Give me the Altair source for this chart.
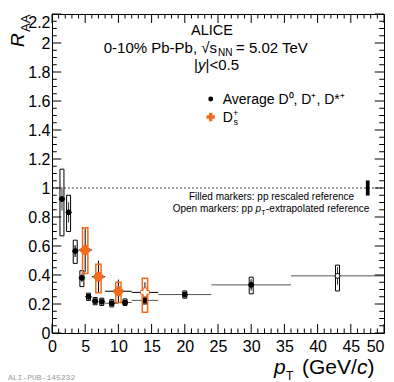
import altair as alt
import pandas as pd

FONT = "Liberation Sans"
ORANGE = "#f26a1c"

# ---------------- data ----------------
# Average D0, D+, D*+
avg_pt = [1.5, 2.5, 3.5, 4.5, 5.5, 6.5, 7.5, 9, 11, 14, 20, 30, 43]
avg_lo = [1, 2, 3, 4, 5, 6, 7, 8, 10, 12, 16, 24, 36]
avg_hi = [2, 3, 4, 5, 6, 7, 8, 10, 12, 16, 24, 36, 50]
avg_raa = [0.924, 0.832, 0.565, 0.38, 0.25, 0.22, 0.215, 0.205, 0.21, 0.225, 0.265, 0.332, 0.394]
avg_stat = [0.08, 0.07, 0.04, 0.03, 0.02, 0.015, 0.015, 0.015, 0.015, 0.025, 0.02, 0.04, 0.06]
avg_sys_lo = [0.67, 0.70, 0.48, 0.32, 0.225, 0.195, 0.19, 0.18, 0.19, 0.20, 0.24, 0.27, 0.29]
avg_sys_hi = [1.13, 0.95, 0.64, 0.43, 0.275, 0.245, 0.24, 0.23, 0.235, 0.25, 0.29, 0.385, 0.468]
avg_ref = [0.0, 0.0, 0.04, 0.02, 0.015, 0.012, 0.012, 0.012, 0.012, 0.015, 0.018, 0.03, 0.0]
avg_open = [False] * 12 + [True]

# Ds+
ds_pt = [5, 7, 10, 14]
ds_lo = [4, 6, 8, 12]
ds_hi = [6, 8, 12, 16]
ds_raa = [0.572, 0.388, 0.288, 0.28]
ds_stat = [0.15, 0.11, 0.08, 0.07]
ds_sys_lo = [0.41, 0.277, 0.21, 0.143]
ds_sys_hi = [0.726, 0.475, 0.35, 0.378]
ds_open = [False, False, False, True]

# normalisation uncertainty
norm_pt = [47.55]
norm_lo = [0.948]
norm_hi = [1.052]

x_major = [0, 5, 10, 15, 20, 25, 30, 35, 40, 45, 50]
x_minor = [v for v in range(0, 51) if v % 5 != 0]
y_major = [0, 0.2, 0.4, 0.6, 0.8, 1, 1.2, 1.4, 1.6, 1.8, 2, 2.2]
y_minor = [round(i * 0.05, 2) for i in range(0, 45) if i % 4 != 0]

avg = pd.DataFrame(dict(pt=avg_pt, lo=avg_lo, hi=avg_hi, raa=avg_raa, stat=avg_stat,
                        slo=avg_sys_lo, shi=avg_sys_hi, ref=avg_ref, open=avg_open))
ds = pd.DataFrame(dict(pt=ds_pt, lo=ds_lo, hi=ds_hi, raa=ds_raa, stat=ds_stat,
                       slo=ds_sys_lo, shi=ds_sys_hi, open=ds_open))
norm = pd.DataFrame(dict(pt=norm_pt, lo=norm_lo, hi=norm_hi))

# ---------------- scales / axes ----------------
xs = alt.Scale(domain=[0, 50], nice=False, zero=False)
ys = alt.Scale(domain=[0, 2.2], nice=False, zero=False)

xaxis = alt.Axis(values=x_major, format="~g", ticks=False, tickSize=0, domain=False, grid=False,
                 labelFont=FONT, labelFontSize=16, labelColor="black", labelPadding=5,
                 labelOverlap=False, labelFlush=False, title=None,
                 labelAlign={"condition": {"test": "datum.value >= 50", "value": "right"},
                             "value": "center"})
yaxis = alt.Axis(values=y_major, format="~g", ticks=False, tickSize=0, domain=False, grid=False,
                 labelFont=FONT, labelFontSize=16, labelColor="black", labelPadding=2,
                 labelOverlap=False, labelFlush=False, title=None,
                 labelBaseline={"condition": {"test": "datum.value > 2.1", "value": "top"},
                                "value": "middle"})


def EX(f):
    return alt.X(f + ":Q", scale=xs, axis=xaxis)


def EY(f):
    return alt.Y(f + ":Q", scale=ys, axis=yaxis)


layers = []

# dashed line at 1
layers.append(alt.Chart(pd.DataFrame({"y": [1], "a": [0], "b": [50]})).mark_rule(
    color="#444", strokeWidth=1, strokeDash=[2, 2]).encode(x=EX("a"), x2="b", y=EY("y")))

# average D: horizontal bin bars
avg_base = alt.Chart(avg)
layers.append(avg_base.mark_rule(color="#555", strokeWidth=1).encode(
    x=EX("lo"), x2="hi", y=EY("raa")))
# syst boxes
layers.append(avg_base.transform_calculate(bl="datum.pt - 0.3", br="datum.pt + 0.3").mark_rect(
    fill="white", stroke="black", strokeWidth=1).encode(x=EX("bl"), x2="br", y=EY("slo"), y2="shi"))
# inner grey boxes
layers.append(avg_base.transform_filter("datum.ref > 0").transform_calculate(
    bl="datum.pt - 0.2", br="datum.pt + 0.2", rl="datum.raa - datum.ref", rh="datum.raa + datum.ref"
).mark_rect(fill="#999999").encode(x=EX("bl"), x2="br", y=EY("rl"), y2="rh"))
# stat bars
layers.append(avg_base.transform_calculate(el="datum.raa - datum.stat", eh="datum.raa + datum.stat").mark_rule(
    color="#333", strokeWidth=1).encode(x=EX("pt"), y=EY("el"), y2="eh"))
# markers
layers.append(avg_base.mark_point(shape="circle", filled=True, size=24, strokeWidth=1, opacity=1).encode(
    x=EX("pt"), y=EY("raa"),
    fill=alt.condition("datum.open", alt.value("white"), alt.value("black")),
    stroke=alt.value("black")))

# Ds
ds_base = alt.Chart(ds)
layers.append(ds_base.mark_rule(color="black", strokeWidth=1).encode(
    x=EX("lo"), x2="hi", y=EY("raa")))
layers.append(ds_base.transform_calculate(el="datum.raa - datum.stat", eh="datum.raa + datum.stat").mark_rule(
    color="black", strokeWidth=1).encode(x=EX("pt"), y=EY("el"), y2="eh"))
layers.append(ds_base.transform_calculate(bl="datum.pt - 0.4", br="datum.pt + 0.4").mark_rect(
    fill=None, stroke=ORANGE, strokeWidth=1.5).encode(x=EX("bl"), x2="br", y=EY("slo"), y2="shi"))
layers.append(ds_base.mark_point(shape="cross", filled=True, size=80, strokeWidth=1, opacity=1).encode(
    x=EX("pt"), y=EY("raa"),
    fill=alt.condition("datum.open", alt.value("white"), alt.value(ORANGE)),
    stroke=alt.value(ORANGE)))

# normalisation box
layers.append(alt.Chart(norm).transform_calculate(bl="datum.pt - 0.28", br="datum.pt + 0.28").mark_rect(
    fill="black").encode(x=EX("bl"), x2="br", y=EY("lo"), y2="hi"))

# inward ticks on all four sides
XL, XS = 0.062, 0.031   # in R_AA units (vertical ticks on x axes)
YL, YS = 1.4, 0.72      # in pT units (horizontal ticks on y axes)
tick_rows_v = []
for v in x_major:
    tick_rows_v += [(v, 0, XL), (v, 2.2 - XL, 2.2)]
for v in x_minor:
    tick_rows_v += [(v, 0, XS), (v, 2.2 - XS, 2.2)]
tick_rows_h = []
for v in y_major:
    tick_rows_h += [(v, 0, YL), (v, 50 - YL, 50)]
for v in y_minor:
    tick_rows_h += [(v, 0, YS), (v, 50 - YS, 50)]
tv = pd.DataFrame(tick_rows_v, columns=["x", "y1", "y2"])
th = pd.DataFrame(tick_rows_h, columns=["y", "x1", "x2"])
layers.append(alt.Chart(tv).mark_rule(color="black", strokeWidth=1).encode(
    x=EX("x"), y=EY("y1"), y2="y2"))
layers.append(alt.Chart(th).mark_rule(color="black", strokeWidth=1).encode(
    x=EX("x1"), x2="x2", y=EY("y")))


# ---------------- text ----------------
def txt(s, x, y, size, align="left", style="normal", font=FONT, color="black", angle=0):
    return alt.Chart(pd.DataFrame({"t": [s]})).mark_text(
        align=align, baseline="alphabetic", font=font, fontSize=size, fontStyle=style,
        color=color, angle=angle).encode(text="t:N", x=alt.value(x), y=alt.value(y))


def sym(x, y, shape, size, color):
    return alt.Chart(pd.DataFrame({"t": [0]})).mark_point(
        shape=shape, filled=True, size=size, color=color, opacity=1).encode(
        x=alt.value(x), y=alt.value(y))


layers += [
    txt("ALICE", 160, 21, 14.5, align="center"),
    txt("0-10% Pb-Pb, \u221as", 165, 39, 15, align="right"),
    txt("NN", 166, 41.5, 10),
    txt("= 5.02 TeV", 184, 39, 15),
    txt("|", 142, 56, 15),
    txt("y", 146, 56, 15, style="italic"),
    txt("|<0.5", 153.5, 56, 15),
    sym(158.7, 85, "circle", 24, "black"),
    txt("Average D\u2070, D\u207a, D*\u207a", 170.7, 90, 14),
    sym(158.7, 103, "cross", 70, ORANGE),
    txt("D", 170.7, 108, 14),
    txt("+", 181, 102, 9),
    txt("s", 181.5, 111, 9),
    txt("Filled markers: pp rescaled reference", 137, 186, 10),
    txt("Open markers: pp ", 120.7, 198, 10),
    txt("p", 203.5, 198, 10, style="italic"),
    txt("T", 209.2, 201, 7),
    txt("-extrapolated reference", 214, 198, 10),
    # axis titles
    txt("R", -28, 33, 19, style="italic", angle=270),
    txt("AA", -22.5, 18, 13, angle=270),
    txt("p", 222, 360, 21, style="italic"),
    txt("T", 234, 365.5, 12),
    txt("(GeV/", 250, 360, 21),
    txt("c", 305, 360, 21, style="italic"),
    txt(")", 315.5, 360, 21),
    txt("ALI-PUB-145232", -44, 366, 8, font="Liberation Mono", color="#9a9a9a"),
]

chart = alt.layer(*layers).properties(
    width=332, height=319,
    autosize=alt.AutoSizeParams(type="none"),
    padding={"left": 44, "top": 6, "right": 2, "bottom": 49},
).configure_view(stroke="black", strokeWidth=1)

chart.save("out.html", embed_options={"renderer": "svg", "actions": False})
